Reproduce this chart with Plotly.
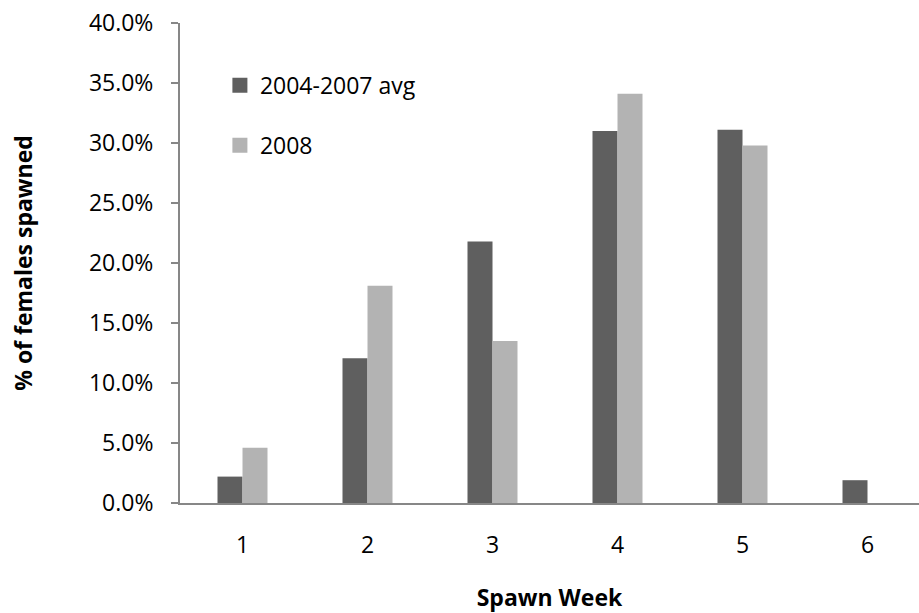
import plotly.graph_objects as go

weeks = [1, 2, 3, 4, 5, 6]
avg_2004_2007 = [2.2, 12.06, 21.8, 31.0, 31.1, 1.9]
y2008 = [4.6, 18.1, 13.5, 34.1, 29.8, 0.0]
series_names = ["2004-2007 avg", "2008"]
series_colors = ["#5f5f5f", "#b3b3b3"]
y_ticks = [0, 5, 10, 15, 20, 25, 30, 35, 40]

FONT = "Open Sans, Noto Sans, Liberation Sans, sans-serif"
AXIS_COLOR = "#878787"

fig = go.Figure()
for vals, name, color, grp in zip([avg_2004_2007, y2008], series_names,
                                  series_colors, ["a", "b"]):
    fig.add_trace(go.Bar(x=weeks, y=vals, name=name,
                         marker=dict(color=color, line=dict(width=0)),
                         legendgroup=grp, showlegend=False))
    # legend entry with a square swatch
    fig.add_trace(go.Scatter(x=[None], y=[None], mode="markers", name=name,
                             marker=dict(symbol="square", size=15, color=color),
                             legendgroup=grp, showlegend=True))

fig.update_layout(
    width=919, height=613,
    margin=dict(l=180, r=0, t=23, b=110),
    paper_bgcolor="white", plot_bgcolor="white",
    barmode="group", bargap=0.6, bargroupgap=0,
    font=dict(family=FONT, size=23, color="black"),
    showlegend=True,
    legend=dict(x=0.054, y=0.915, xanchor="left", yanchor="top",
                bgcolor="rgba(0,0,0,0)", font=dict(size=23),
                tracegroupgap=27, traceorder="grouped", itemsizing="trace"),
    xaxis=dict(
        range=[0.5, 6.412], tickmode="array", tickvals=weeks,
        ticktext=[str(w) for w in weeks],
        showline=True, linecolor=AXIS_COLOR, linewidth=2,
        ticks="", showgrid=False, zeroline=False,
        ticklabelstandoff=20,
        title=dict(text="<b>Spawn Week</b>", standoff=34,
                   font=dict(size=23)),
    ),
    yaxis=dict(
        range=[0, 40], tickmode="array", tickvals=y_ticks,
        ticktext=[f"{v:.1f}%" for v in y_ticks],
        showline=True, linecolor=AXIS_COLOR, linewidth=2,
        ticks="outside", ticklen=7, tickcolor=AXIS_COLOR, tickwidth=2,
        showgrid=False, zeroline=False,
        ticklabelstandoff=13,
        title=dict(text="<b>% of females spawned</b>", standoff=50,
                   font=dict(size=23)),
    ),
)

fig.write_html("out.html")
